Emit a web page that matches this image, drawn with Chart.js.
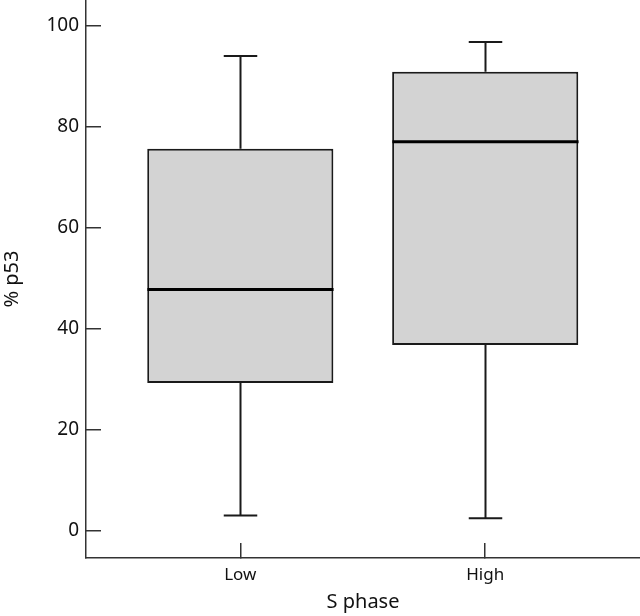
<!DOCTYPE html>
<html>
<head>
<meta charset="utf-8">
<script src="https://cdn.jsdelivr.net/npm/chart.js@4"></script>
<style>
  html, body { margin: 0; padding: 0; background: #fff; }
  #wrap { width: 640px; height: 616px; }
</style>
</head>
<body>
<div id="wrap"><canvas id="boxplot"></canvas></div>
<script>
// box plot values
var categories = ['Low', 'High'];
var whiskerMin = [2.9, 2.4];
var quart1 = [29.2, 36.7];
var medians = [47.7, 77.0];
var quart3 = [75.6, 90.9];
var whiskerMax = [94.0, 96.8];
var yTicks = [0, 20, 40, 60, 80, 100];

var ink = '#1a1a1a';

// whiskers, caps and medians on top of the floating bars
var boxExtras = {
    id: 'boxExtras',
    afterDatasetsDraw: function(chart) {
        var ctx = chart.ctx;
        var xs = chart.scales.x, ys = chart.scales.y;
        var bars = chart.getDatasetMeta(0).data;
        ctx.save();
        ctx.lineCap = 'butt';
        categories.forEach(function(c, i) {
            var cx = Math.round(xs.getPixelForValue(i + 1)) + 0.5;
            var w = bars[i].width;
            var cap = w * 0.18;
            ctx.strokeStyle = ink;
            ctx.lineWidth = 2;
            ctx.beginPath();
            ctx.moveTo(cx, ys.getPixelForValue(quart3[i]));
            ctx.lineTo(cx, ys.getPixelForValue(whiskerMax[i]));
            ctx.moveTo(cx, ys.getPixelForValue(quart1[i]));
            ctx.lineTo(cx, ys.getPixelForValue(whiskerMin[i]));
            ctx.moveTo(cx - cap / 2, ys.getPixelForValue(whiskerMax[i]));
            ctx.lineTo(cx + cap / 2, ys.getPixelForValue(whiskerMax[i]));
            ctx.moveTo(cx - cap / 2, ys.getPixelForValue(whiskerMin[i]));
            ctx.lineTo(cx + cap / 2, ys.getPixelForValue(whiskerMin[i]));
            ctx.stroke();
            ctx.lineWidth = 3;
            ctx.strokeStyle = '#000';
            ctx.beginPath();
            ctx.moveTo(cx - w / 2, ys.getPixelForValue(medians[i]));
            ctx.lineTo(cx + w / 2, ys.getPixelForValue(medians[i]));
            ctx.stroke();
        });
        ctx.restore();
    }
};

new Chart(document.getElementById('boxplot'), {
    type: 'bar',
    data: {
        datasets: [{
            data: categories.map(function(c, i) {
                return { x: i + 1, y: [quart1[i], quart3[i]] };
            }),
            backgroundColor: '#d3d3d3',
            borderColor: ink,
            borderWidth: 2,
            borderSkipped: false,
            barPercentage: 0.76,
            categoryPercentage: 1
        }]
    },
    options: {
        responsive: true,
        maintainAspectRatio: false,
        animation: false,
        layout: { padding: 0 },
        plugins: {
            legend: { display: false },
            tooltip: { enabled: false }
        },
        scales: {
            x: {
                type: 'linear',
                offset: false,
                min: 0.37,
                max: 2.632,
                afterBuildTicks: function(scale) {
                    scale.ticks = categories.map(function(c, i) { return { value: i + 1 }; });
                },
                afterFit: function(scale) {
                    scale.height = 58;
                    scale.paddingLeft = 0;
                    scale.paddingRight = 0;
                },
                ticks: {
                    autoSkip: false,
                    maxRotation: 0,
                    padding: 22,
                    color: '#111',
                    font: { family: 'Noto Sans', size: 17 },
                    callback: function(v) { return categories[v - 1]; }
                },
                grid: { offset: false, drawOnChartArea: false, tickLength: -15, color: '#333', lineWidth: 1.5 },
                border: { display: true, color: '#333', width: 1.5 },
                title: {
                    display: true,
                    text: 'S phase',
                    color: '#111',
                    padding: { top: 0, bottom: 2 },
                    font: { family: 'Noto Sans', size: 20 }
                }
            },
            y: {
                min: -5.5,
                max: 105.1,
                afterBuildTicks: function(scale) {
                    scale.ticks = yTicks.map(function(v) { return { value: v }; });
                },
                afterFit: function(scale) {
                    scale.width = 86;
                    scale.paddingTop = 0;
                    scale.paddingBottom = 0;
                },
                ticks: {
                    padding: 22,
                    color: '#111',
                    font: { family: 'Noto Sans', size: 19 }
                },
                grid: { drawOnChartArea: false, tickLength: -15, color: '#333', lineWidth: 1.5 },
                border: { display: true, color: '#333', width: 1.5 },
                title: {
                    display: true,
                    text: '% p53',
                    color: '#111',
                    padding: { top: 0, bottom: 0 },
                    font: { family: 'Noto Sans', size: 20 }
                }
            }
        }
    },
    plugins: [boxExtras]
});
</script>
</body>
</html>
